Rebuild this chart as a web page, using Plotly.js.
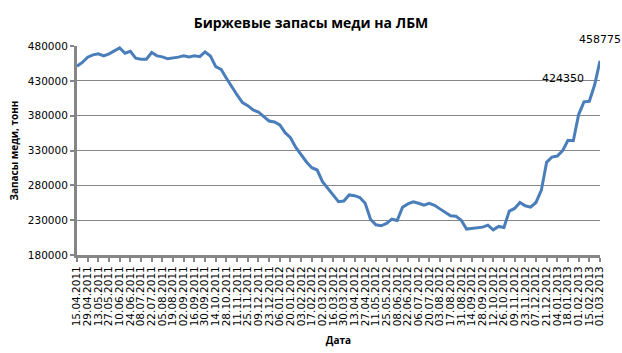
<!DOCTYPE html>
<html>
<head>
<meta charset="utf-8">
<script src="https://cdn.plot.ly/plotly-3.0.1.min.js"></script>
<style>html,body{margin:0;padding:0;background:#fff;}#chart{width:622px;height:353px;}</style>
</head>
<body>
<div id="chart"></div>
<script>
var dates = [
"15.04.2011","22.04.2011","29.04.2011","06.05.2011","13.05.2011","20.05.2011","27.05.2011",
"03.06.2011","10.06.2011","17.06.2011","24.06.2011","01.07.2011","08.07.2011","15.07.2011",
"22.07.2011","29.07.2011","05.08.2011","12.08.2011","19.08.2011","26.08.2011","02.09.2011",
"09.09.2011","16.09.2011","23.09.2011","30.09.2011","07.10.2011","14.10.2011","21.10.2011",
"28.10.2011","04.11.2011","11.11.2011","18.11.2011","25.11.2011","02.12.2011","09.12.2011",
"16.12.2011","23.12.2011","30.12.2011","06.01.2012","13.01.2012","20.01.2012","27.01.2012",
"03.02.2012","10.02.2012","17.02.2012","24.02.2012","02.03.2012","09.03.2012","16.03.2012",
"23.03.2012","30.03.2012","06.04.2012","13.04.2012","20.04.2012","27.04.2012","04.05.2012",
"11.05.2012","18.05.2012","25.05.2012","01.06.2012","08.06.2012","15.06.2012","22.06.2012",
"29.06.2012","06.07.2012","13.07.2012","20.07.2012","27.07.2012","03.08.2012","10.08.2012",
"17.08.2012","24.08.2012","31.08.2012","07.09.2012","14.09.2012","21.09.2012","28.09.2012",
"05.10.2012","12.10.2012","19.10.2012","26.10.2012","02.11.2012","09.11.2012","16.11.2012",
"23.11.2012","30.11.2012","07.12.2012","14.12.2012","21.12.2012","28.12.2012","04.01.2013",
"11.01.2013","18.01.2013","25.01.2013","01.02.2013","08.02.2013","15.02.2013","22.02.2013",
"01.03.2013"
];

var stocks = [
451000,456400,464000,467300,468700,465800,468700,473000,477200,469600,
472500,462500,461100,461100,470600,465800,464400,461600,462500,464000,
465800,464400,465800,464600,471400,465700,450400,446500,433600,420700,
409700,398700,394400,388100,385300,378600,372300,370900,366600,355600,
348400,334500,324500,313500,305300,302000,285200,275200,265700,256500,
257500,266200,265200,262400,254300,231400,223400,221900,225300,231400,
229500,248600,253300,256200,254300,251400,254300,251400,246200,241000,
236200,235700,230000,217200,218100,219500,220000,222900,216200,221000,
219500,243000,246800,255400,250600,248700,255400,272700,313000,320600,
322100,329800,344600,344000,381600,399800,400700,424350,458775
];

var tickLabels = [
"15.04.2011","29.04.2011","13.05.2011","27.05.2011","10.06.2011","24.06.2011","08.07.2011",
"22.07.2011","05.08.2011","19.08.2011","02.09.2011","16.09.2011","30.09.2011","14.10.2011",
"28.10.2011","11.11.2011","25.11.2011","09.12.2011","23.12.2011","06.01.2012","20.01.2012",
"03.02.2012","17.02.2012","02.03.2012","16.03.2012","30.03.2012","13.04.2012","27.04.2012",
"11.05.2012","25.05.2012","08.06.2012","22.06.2012","06.07.2012","20.07.2012","03.08.2012",
"17.08.2012","31.08.2012","14.09.2012","28.09.2012","12.10.2012","26.10.2012","09.11.2012",
"23.11.2012","07.12.2012","21.12.2012","04.01.2013","18.01.2013","01.02.2013","15.02.2013",
"01.03.2013"
];

var titleText = "Биржевые запасы меди на ЛБМ";
var xTitle = "Дата";
var yTitle = "Запасы меди, тонн";

var n = dates.length;
var trace = {
  x: dates,
  y: stocks,
  type: "scatter",
  mode: "lines",
  line: {color: "#4A7EBB", width: 3},
  hoverinfo: "x+y"
};

var layout = {
  width: 622,
  height: 353,
  paper_bgcolor: "#ffffff",
  plot_bgcolor: "#ffffff",
  margin: {l: 77, r: 22, t: 46, b: 98, pad: 0},
  showlegend: false,
  title: {
    text: "<b>" + titleText + "</b>",
    font: {family: "Open Sans, DejaVu Sans, sans-serif", size: 14, color: "#000"},
    x: 0.5, xanchor: "center", y: 0.935, yanchor: "middle"
  },
  xaxis: {
    type: "category",
    range: [0, n - 1],
    tickmode: "array",
    tickvals: tickLabels,
    ticktext: tickLabels,
    tickangle: -90,
    tickfont: {family: "DejaVu Sans, sans-serif", size: 10.5, color: "#000"},
    ticks: "outside",
    ticklen: 4,
    tickwidth: 2,
    tickcolor: "#868686",
    showline: true,
    linecolor: "#868686",
    linewidth: 3,
    showgrid: false,
    zeroline: false,
    automargin: false,
    title: {
      text: "<b>" + xTitle + "</b>",
      font: {family: "Open Sans, DejaVu Sans, sans-serif", size: 10, color: "#000"},
      standoff: 12
    }
  },
  yaxis: {
    range: [180000, 480000],
    tick0: 180000,
    dtick: 50000,
    tickformat: "d",
    tickfont: {family: "DejaVu Sans, sans-serif", size: 10.5, color: "#000"},
    ticks: "outside",
    ticklen: 4,
    tickwidth: 2,
    tickcolor: "#868686",
    showline: true,
    linecolor: "#868686",
    linewidth: 3,
    showgrid: true,
    gridcolor: "#868686",
    gridwidth: 1,
    zeroline: false,
    automargin: false,
    title: {
      text: "<b>" + yTitle + "</b>",
      font: {family: "Open Sans, DejaVu Sans, sans-serif", size: 10, color: "#000"},
      standoff: 8
    }
  },
  annotations: [
    {
      x: dates[n - 1], y: stocks[n - 1], xref: "x", yref: "y",
      text: String(stocks[n - 1]), showarrow: false,
      xanchor: "center", yanchor: "middle", yshift: 21,
      font: {family: "DejaVu Sans, sans-serif", size: 11, color: "#000"}
    },
    {
      x: dates[n - 2], y: stocks[n - 2], xref: "x", yref: "y",
      text: String(stocks[n - 2]), showarrow: false,
      xanchor: "right", yanchor: "middle", xshift: -9, yshift: 6,
      font: {family: "DejaVu Sans, sans-serif", size: 11, color: "#000"}
    }
  ]
};

Plotly.newPlot("chart", [trace], layout, {staticPlot: true, displayModeBar: false});
</script>
</body>
</html>
